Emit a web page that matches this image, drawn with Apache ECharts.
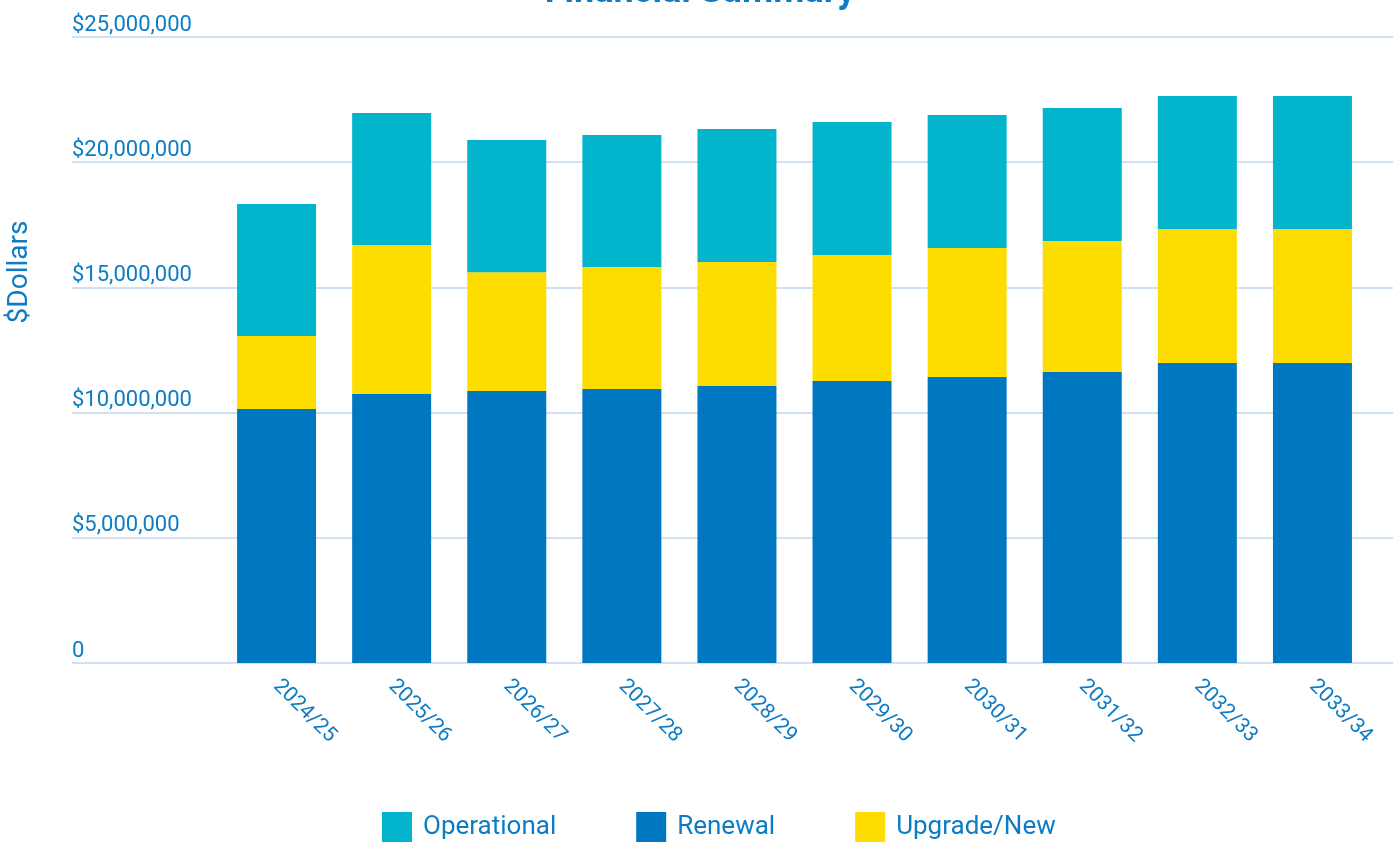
<!DOCTYPE html>
<html>
<head>
<meta charset="utf-8">
<title>Financial Summary</title>
<script src="https://cdn.jsdelivr.net/npm/echarts@6/dist/echarts.min.js"></script>
<style>
  html, body { margin: 0; padding: 0; background: #ffffff; }
  #chart { width: 1400px; height: 843px; }
</style>
</head>
<body>
<div id="chart"></div>
<script>
// Financial years on the category axis
const categories = ['2024/25', '2025/26', '2026/27', '2027/28', '2028/29',
                    '2029/30', '2030/31', '2031/32', '2032/33', '2033/34'];

// Spending per year, in dollars (stacked: Renewal, Upgrade/New, Operational)
const renewal     = [10140000, 10740000, 10860000, 10940000, 11060000,
                     11260000, 11420000, 11620000, 11980000, 11980000];
const upgradeNew  = [2920000, 5950000, 4750000, 4870000, 4950000,
                     5030000, 5150000, 5230000, 5350000, 5350000];
const operational = [5270000, 5270000, 5280000, 5280000, 5320000,
                     5320000, 5310000, 5310000, 5310000, 5310000];

// Value axis range
const yMin = 0;
const yMax = 25000000;
const yStep = 5000000;

const TEXT_BLUE = '#0e7cc4';
const FONT = 'Roboto';

const chart = echarts.init(document.getElementById('chart'), null, { renderer: 'canvas' });

function dollars(v) {
  if (v === 0) return '0';
  return '$' + v.toLocaleString('en-US');
}

chart.setOption({
  backgroundColor: '#ffffff',
  animation: false,
  textStyle: { fontFamily: FONT },
  title: {
    text: 'Financial Summary',
    left: 'center',
    top: -30,
    textStyle: { color: TEXT_BLUE, fontSize: 36, fontWeight: 'bold', fontFamily: FONT }
  },
  legend: {
    data: ['Operational', 'Renewal', 'Upgrade/New'],
    left: 382,
    top: 812,
    padding: 0,
    icon: 'rect',
    itemWidth: 30,
    itemHeight: 30,
    itemGap: 80,
    textStyle: { color: TEXT_BLUE, fontSize: 26, fontFamily: FONT, padding: [0, 0, 0, 6] }
  },
  graphic: [{
    type: 'text',
    x: 20,
    y: 272,
    rotation: Math.PI / 2,
    style: {
      text: '$Dollars',
      fill: TEXT_BLUE,
      font: '28px Roboto',
      textAlign: 'center',
      textVerticalAlign: 'middle'
    }
  }],
  grid: [
    // full-width grid carrying the gridlines and value labels
    { left: 72, right: 7, top: 37, bottom: 180, containLabel: false },
    // grid holding the bars
    { left: 219, right: 30, top: 37, bottom: 180, containLabel: false }
  ],
  xAxis: [
    { gridIndex: 0, type: 'category', data: categories, show: false },
    {
      gridIndex: 1,
      type: 'category',
      data: categories,
      axisLine: { show: false },
      axisTick: { show: false },
      axisLabel: {
        rotate: -45,
        margin: 20,
        color: TEXT_BLUE,
        fontSize: 21,
        fontFamily: FONT,
        interval: 0
      }
    }
  ],
  yAxis: [
    {
      gridIndex: 0,
      type: 'value',
      min: yMin,
      max: yMax,
      interval: yStep,
      axisLine: { show: false },
      axisTick: { show: false },
      splitLine: { lineStyle: { color: '#c2d6ef', width: 1.5 } },
      axisLabel: {
        inside: true,
        margin: 0,
        align: 'left',
        verticalAlign: 'bottom',
        padding: [0, 0, 1, 0],
        color: TEXT_BLUE,
        fontSize: 22,
        fontFamily: FONT,
        formatter: dollars
      }
    },
    {
      gridIndex: 1,
      type: 'value',
      min: yMin,
      max: yMax,
      interval: yStep,
      show: false,
      splitLine: { show: false }
    }
  ],
  series: [
    {
      name: 'Renewal', type: 'bar', stack: 'total',
      xAxisIndex: 1, yAxisIndex: 1, barWidth: 79,
      itemStyle: { color: '#0078c1' },
      data: renewal
    },
    {
      name: 'Upgrade/New', type: 'bar', stack: 'total',
      xAxisIndex: 1, yAxisIndex: 1, barWidth: 79,
      itemStyle: { color: '#fddc00' },
      data: upgradeNew
    },
    {
      name: 'Operational', type: 'bar', stack: 'total',
      xAxisIndex: 1, yAxisIndex: 1, barWidth: 79,
      itemStyle: { color: '#02b5cc' },
      data: operational
    }
  ],
  color: ['#02b5cc', '#0078c1', '#fddc00']
});
</script>
</body>
</html>
